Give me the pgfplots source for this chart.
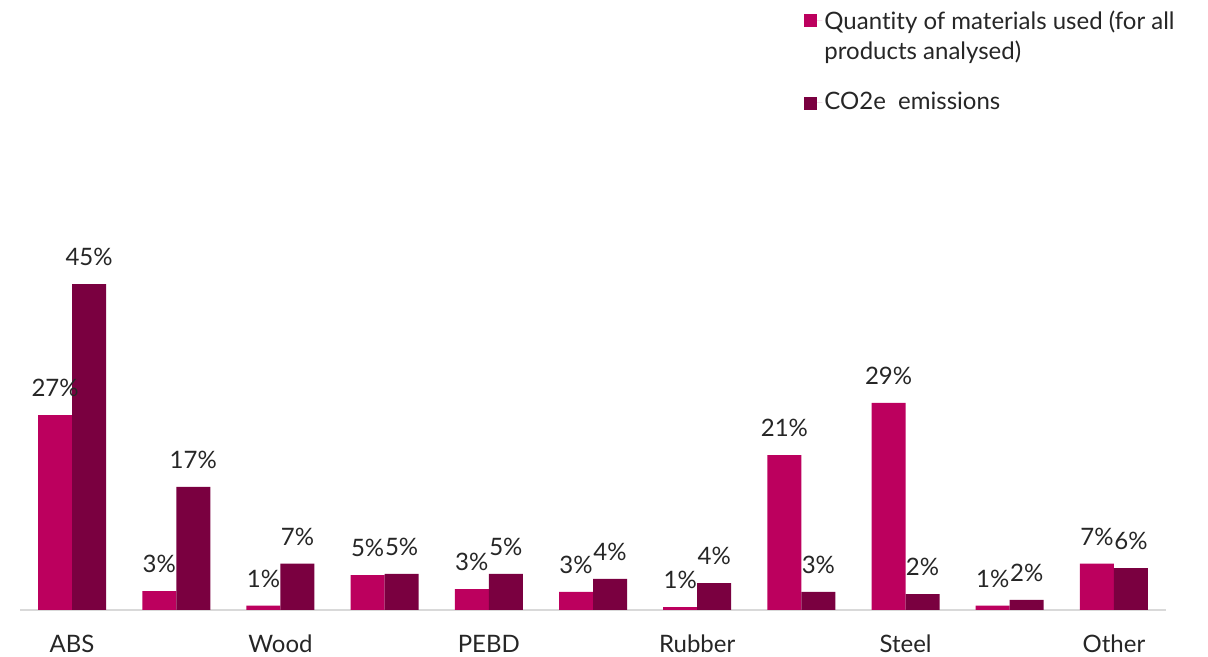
\documentclass[border=0pt]{standalone}
\usepackage{fontspec}
\setmainfont{Lato}[Ligatures=CommonOff]
\usepackage{pgfplots}
\pgfplotsset{compat=1.18}
\definecolor{qty}{HTML}{BC005E}
\definecolor{co2}{HTML}{7A0040}
\definecolor{axgray}{HTML}{D9D9D9}
\begin{document}
\begin{tikzpicture}
\path[use as bounding box] (-10pt,-23.5pt) rectangle (594pt,305pt);
\begin{axis}[
  at={(0,0)}, anchor=south west,
  scale only axis, width=573pt, height=240pt,
  xmin=-0.5, xmax=10.5, ymin=0, ymax=66.3,
  clip=false,
  ybar=0pt, bar width=17pt,
  axis x line=bottom, axis y line=none,
  axis line style={draw=axgray, line width=1pt, -},
  xtick={0,...,10},
  xticklabels={ABS,,Wood,,PEBD,,Rubber,,Steel,,Other},
  major tick length=0pt,
  xticklabel style={font=\fontsize{12}{14}\selectfont, text=black!85, yshift=-9pt},
  point meta=explicit symbolic,
  nodes near coords={\pgfplotspointmeta},
  every node near coord/.append style={font=\fontsize{12}{14}\selectfont, text=black!85, yshift=5.5pt},
  legend style={at={(0.6789,1.2666)}, anchor=north west, draw=none, fill=none,
    font=\fontsize{12}{15}\selectfont, text=black!85, row sep=28pt,
    nodes={inner sep=1pt}},
  legend cell align=left,
  legend image code/.code={\fill[#1] (0pt,-3.5pt) rectangle (6.5pt,3pt); \path (0pt,0pt) -- (9pt,0pt);},
]
\addplot[fill=qty, draw=none] coordinates {
 (0,26.9) [27\%]
 (1,2.6) [3\%]
 (2,0.6) [1\%]
 (3,4.8) [5\%]
 (4,2.9) [3\%]
 (5,2.5) [3\%]
 (6,0.4) [1\%]
 (7,21.4) [21\%]
 (8,28.6) [29\%]
 (9,0.6) [1\%]
 (10,6.4) [7\%]
};
\addplot[fill=co2, draw=none] coordinates {
 (0,45.0) [45\%]
 (1,17.0) [17\%]
 (2,6.4) [7\%]
 (3,5.0) [5\%]
 (4,5.0) [5\%]
 (5,4.3) [4\%]
 (6,3.7) [4\%]
 (7,2.5) [3\%]
 (8,2.2) [2\%]
 (9,1.4) [2\%]
 (10,5.8) [6\%]
};
\legend{{\begin{tabular}[t]{@{}l@{}}Quantity of materials used (for all\\products analysed)\end{tabular}}, CO2e\ \ emissions}
\end{axis}
\end{tikzpicture}
\end{document}
